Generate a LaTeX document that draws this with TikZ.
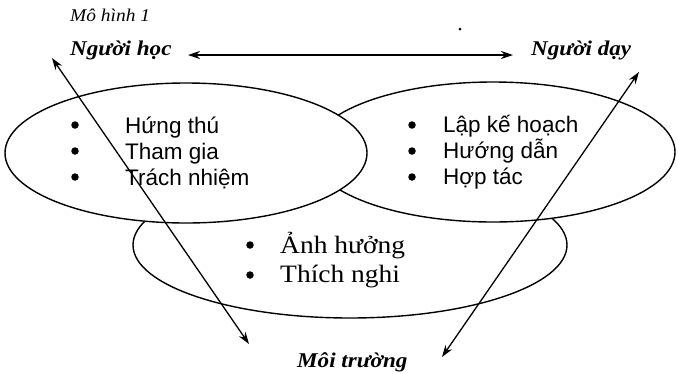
\documentclass[tikz,border=0pt]{standalone}
\usepackage{fontspec}
\usepackage{graphicx}
\setmainfont{Liberation Serif}
\newfontfamily\sansf{Liberation Sans}
\usetikzlibrary{arrows.meta}
\newcommand{\wide}[2]{\scalebox{#1}[1]{#2}}
\begin{document}
\begin{tikzpicture}[x=1pt,y=-1pt,
  ell/.style={draw=black,line width=1.4pt,fill=white},
  arr/.style={line width=1.3pt,{Stealth[length=12pt,width=8pt]}-{Stealth[length=12pt,width=8pt]}},
  lbl/.style={inner sep=0pt,anchor=base west},
  head/.style={lbl,font=\fontsize{21}{23}\selectfont\bfseries\itshape},
  title/.style={lbl,font=\fontsize{18}{20}\selectfont\itshape},
  sitem/.style={lbl,font=\sansf\fontsize{22.5}{24}\selectfont},
  ritem/.style={lbl,font=\fontsize{25}{27}\selectfont},
  bul/.style={circle,fill=black,inner sep=0pt,minimum size=7.5pt},
  speck/.style={circle,fill=black,inner sep=0pt,minimum size=3pt}]
\useasboundingbox (0,0) rectangle (678,373);
% ellipses
\draw[ell] (350,245) ellipse [x radius=217, y radius=73];
\draw[ell] (493,152) ellipse [x radius=182, y radius=70];
\draw[ell] (186,153) ellipse [x radius=181, y radius=70];
% headings
\node[title] (mh) at (70,21) {\wide{1.08}{Mô hình 1}};
\node[head] (hoc) at (70,55) {\wide{1.1}{Người học}};
\node[head] (day) at (531,55) {\wide{1.1}{Người dạy}};
\node[head] (mt) at (297,367) {\wide{1.1}{Môi trường}};
\node[speck] (sp) at (460,29) {};
% left items
\node[bul] (b1) at (75,125) {};
\node[bul] (b2) at (75,151) {};
\node[bul] (b3) at (75,177) {};
\node[sitem] (t1) at (125,133) {Hứng thú};
\node[sitem] (t2) at (125,159) {Tham gia};
\node[sitem] (t3) at (125,185) {Trách nhiệm};
% right items
\node[bul] (b4) at (412,125) {};
\node[bul] (b5) at (412,151) {};
\node[bul] (b6) at (412,177) {};
\node[sitem] (t4) at (443,132) {Lập kế hoạch};
\node[sitem] (t5) at (443,158) {Hướng dẫn};
\node[sitem] (t6) at (443,184) {Hợp tác};
% bottom items
\node[bul] (b7) at (250,245) {};
\node[bul] (b8) at (250,275) {};
\node[ritem] (t7) at (280,253) {\wide{1.1}{Ảnh hưởng}};
\node[ritem] (t8) at (280,282) {\wide{1.1}{Thích nghi}};
% arrows
\coordinate (hl) at (188,55);
\coordinate (hr) at (513,55);
\coordinate (lt) at (52,58);
\coordinate (lb) at (249,344);
\coordinate (rt) at (639,72);
\coordinate (rb) at (442,357);
\draw[arr] (hl) -- (hr);
\draw[arr] (lt) -- (lb);
\draw[arr] (rt) -- (rb);
\end{tikzpicture}
\end{document}
